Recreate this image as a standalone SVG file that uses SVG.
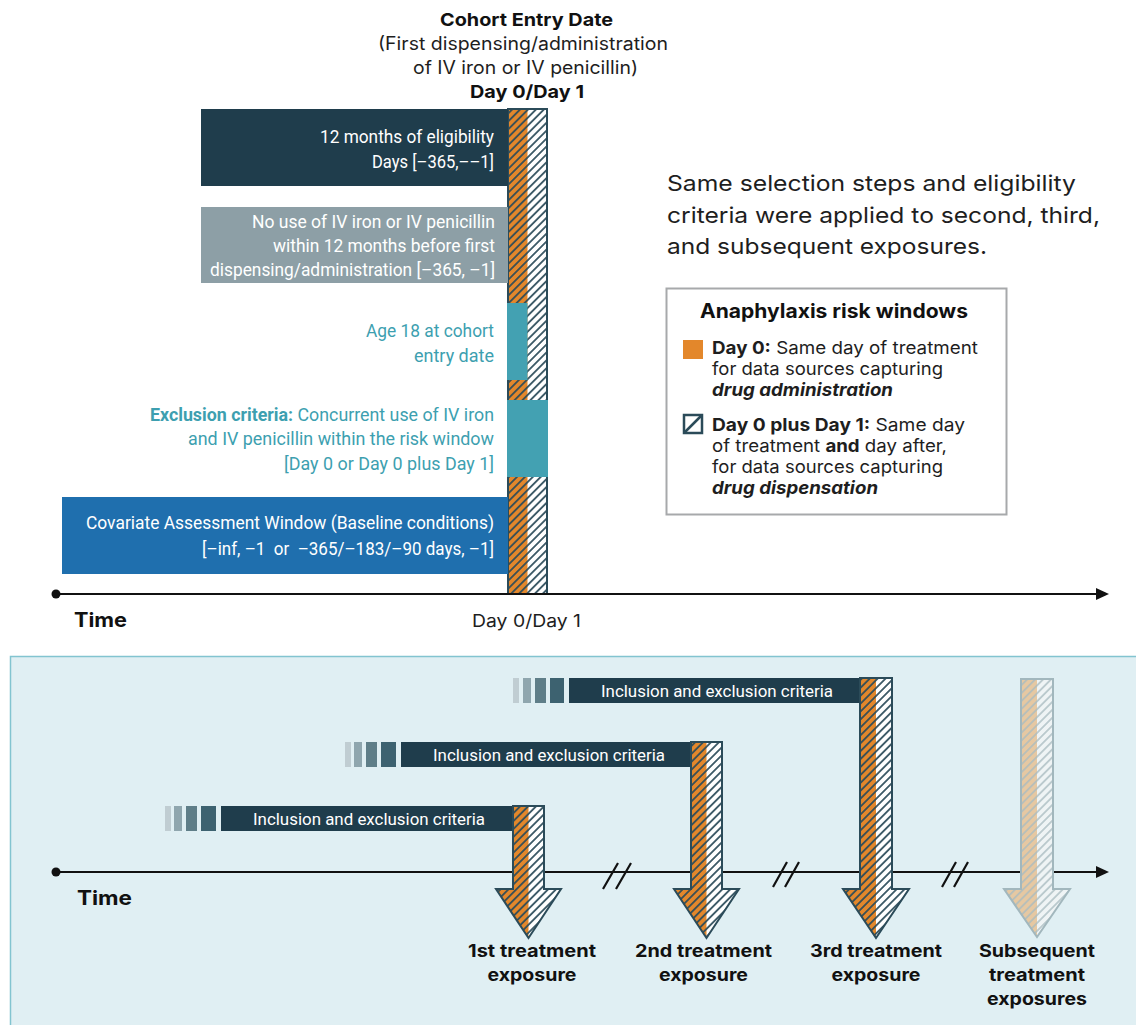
<svg xmlns="http://www.w3.org/2000/svg" width="1136" height="1025" viewBox="0 0 1136 1025">
<defs>
<style>
text{lengthAdjust:spacingAndGlyphs;}
.hd{font-family:Inter,"Liberation Sans",sans-serif;font-weight:700;fill:#111;}
.rg{font-family:Inter,"Liberation Sans",sans-serif;fill:#1e1e1e;}
.cd{font-family:Roboto,"Liberation Sans",sans-serif;font-size:18px;}
.wt{fill:#ffffff;}
.tl{fill:#3d9fb0;}
.axis{stroke:#111;stroke-width:2;fill:none;}
.brk{stroke:#111;stroke-width:2.2;fill:none;}
.out{fill:none;stroke:#2b4b59;stroke-width:2;stroke-linejoin:miter;}
.outf{fill:none;stroke:#a2b7bd;stroke-width:2;}
</style>
<pattern id="hatch" patternUnits="userSpaceOnUse" width="5.6" height="5.6" patternTransform="rotate(45)">
<line x1="2.8" y1="0" x2="2.8" y2="5.6" stroke="#2b4b59" stroke-width="1.7"/>
</pattern>
<pattern id="hatchF" patternUnits="userSpaceOnUse" width="5.6" height="5.6" patternTransform="rotate(45)">
<line x1="2.8" y1="0" x2="2.8" y2="5.6" stroke="#a9bcc1" stroke-width="1.4"/>
</pattern>
</defs>

<!-- Top header -->
<g id="header">
<text class="hd" x="526.5" y="26" font-size="18" text-anchor="middle" textLength="173" lengthAdjust="spacingAndGlyphs">Cohort Entry Date</text>
<text class="rg" x="523" y="50" font-size="18" text-anchor="middle" textLength="290" lengthAdjust="spacingAndGlyphs">(First dispensing/administration</text>
<text class="rg" x="525.5" y="74" font-size="18" text-anchor="middle" textLength="225" lengthAdjust="spacingAndGlyphs">of IV iron or IV penicillin)</text>
<text class="hd" x="527" y="98" font-size="18" text-anchor="middle" textLength="114" lengthAdjust="spacingAndGlyphs">Day 0/Day 1</text>
</g>

<!-- Central risk window bar -->
<g id="risk-bar">
<rect x="508" y="109" width="39" height="485" fill="#ffffff"/>
<rect x="508" y="109" width="19.5" height="485" fill="#e3872b"/>
<rect x="508" y="109" width="39" height="485" fill="url(#hatch)"/>
<rect x="508" y="109" width="39" height="485" class="out"/>
</g>

<g id="eligibility">
<rect x="201" y="109" width="307" height="77" fill="#1f3d4c"/>
<text class="cd wt" x="494" y="143" text-anchor="end" textLength="174" lengthAdjust="spacingAndGlyphs">12 months of eligibility</text>
<text class="cd wt" x="494" y="168" text-anchor="end" textLength="122" lengthAdjust="spacingAndGlyphs">Days [–365,––1]</text>
</g>

<g id="no-use">
<rect x="201" y="207" width="307" height="76" fill="#8d9fa6"/>
<text class="cd wt" x="495" y="228" text-anchor="end" textLength="243" lengthAdjust="spacingAndGlyphs">No use of IV iron or IV penicillin</text>
<text class="cd wt" x="495" y="252" text-anchor="end" textLength="222" lengthAdjust="spacingAndGlyphs">within 12 months before first</text>
<text class="cd wt" x="495" y="276" text-anchor="end" textLength="285" lengthAdjust="spacingAndGlyphs">dispensing/administration [–365, –1]</text>
</g>

<g id="age">
<rect x="507" y="303" width="20.5" height="77" fill="#43a1b2"/>
<text class="cd tl" x="494" y="337" text-anchor="end" textLength="128" lengthAdjust="spacingAndGlyphs">Age 18 at cohort</text>
<text class="cd tl" x="494" y="362" text-anchor="end" textLength="80" lengthAdjust="spacingAndGlyphs">entry date</text>
</g>

<g id="exclusion">
<rect x="507" y="400" width="41" height="77" fill="#43a1b2"/>
<text class="cd tl" x="494" y="421" text-anchor="end" textLength="344" lengthAdjust="spacingAndGlyphs"><tspan font-weight="700">Exclusion criteria:</tspan> Concurrent use of IV iron</text>
<text class="cd tl" x="494" y="445" text-anchor="end" textLength="306" lengthAdjust="spacingAndGlyphs">and IV penicillin within the risk window</text>
<text class="cd tl" x="494" y="470" text-anchor="end" textLength="210" lengthAdjust="spacingAndGlyphs">[Day 0 or Day 0 plus Day 1]</text>
</g>

<g id="covariate">
<rect x="62" y="497" width="446" height="77" fill="#1f6fae"/>
<text class="cd wt" x="494" y="529" text-anchor="end" textLength="408" lengthAdjust="spacingAndGlyphs">Covariate Assessment Window (Baseline conditions)</text>
<text class="cd wt" x="494" y="555" text-anchor="end" textLength="292" lengthAdjust="spacingAndGlyphs" xml:space="preserve">[–inf, –1  or  –365/–183/–90 days, –1]</text>
</g>

<!-- Right side note -->
<g id="note">
<text class="rg" x="667" y="191" font-size="22" textLength="409" lengthAdjust="spacingAndGlyphs">Same selection steps and eligibility</text>
<text class="rg" x="667" y="223" font-size="22" textLength="433" lengthAdjust="spacingAndGlyphs">criteria were applied to second, third,</text>
<text class="rg" x="667" y="254" font-size="22" textLength="320" lengthAdjust="spacingAndGlyphs">and subsequent exposures.</text>
</g>

<!-- Legend -->
<g id="legend">
<rect x="666.5" y="288.5" width="340" height="226" fill="#ffffff" stroke="#a7a9ab" stroke-width="2"/>
<text class="hd" x="834" y="318" font-size="19.5" text-anchor="middle" textLength="268" lengthAdjust="spacingAndGlyphs">Anaphylaxis risk windows</text>
<rect x="683" y="340" width="20" height="19" fill="#e3872b"/>
<text class="rg" x="712" y="354" font-size="17.5" textLength="266" lengthAdjust="spacingAndGlyphs"><tspan font-weight="700">Day 0:</tspan> Same day of treatment</text>
<text class="rg" x="712" y="375" font-size="17.5" textLength="231" lengthAdjust="spacingAndGlyphs">for data sources capturing</text>
<text class="rg" x="712" y="396" font-size="17.5" font-weight="700" font-style="italic" textLength="181" lengthAdjust="spacingAndGlyphs">drug administration</text>
<rect x="684" y="415" width="18" height="18" fill="#ffffff" stroke="#2b4b59" stroke-width="2.5"/>
<line x1="685" y1="432" x2="701" y2="416" stroke="#2b4b59" stroke-width="2.5"/>
<text class="rg" x="712" y="431" font-size="17.5" textLength="253" lengthAdjust="spacingAndGlyphs"><tspan font-weight="700">Day 0 plus Day 1:</tspan> Same day</text>
<text class="rg" x="712" y="452" font-size="17.5" textLength="235" lengthAdjust="spacingAndGlyphs">of treatment <tspan font-weight="700">and</tspan> day after,</text>
<text class="rg" x="712" y="473" font-size="17.5" textLength="231" lengthAdjust="spacingAndGlyphs">for data sources capturing</text>
<text class="rg" x="712" y="494" font-size="17.5" font-weight="700" font-style="italic" textLength="166" lengthAdjust="spacingAndGlyphs">drug dispensation</text>
</g>

<!-- Top axis -->
<g id="connectors-top">
<line class="axis" x1="56" y1="594" x2="1098" y2="594"/>
<circle cx="56" cy="594" r="4.5" fill="#111"/>
<polygon points="1096,588 1109,594 1096,600" fill="#111"/>
</g>
<text class="hd" x="74" y="627" font-size="20" textLength="53" lengthAdjust="spacingAndGlyphs">Time</text>
<text class="rg" x="526.5" y="627" font-size="17.5" text-anchor="middle" textLength="109" lengthAdjust="spacingAndGlyphs">Day 0/Day 1</text>

<!-- Bottom panel -->
<rect id="panel" x="10.5" y="656.5" width="1130" height="372" fill="#e0eff3" stroke="#82c4d0" stroke-width="1.5"/>

<g id="connectors-bottom">
<line class="axis" x1="56" y1="872" x2="1098" y2="872"/>
<circle cx="56" cy="872" r="4.5" fill="#111"/>
<polygon points="1096,866 1109,872 1096,878" fill="#111"/>
<path class="brk" d="M603,889 L618,863 M616,889 L631,863"/>
<path class="brk" d="M773,887 L787,862 M785,887 L799,862"/>
<path class="brk" d="M942,887 L956,862 M954,887 L968,862"/>
</g>
<text class="hd" x="77" y="905" font-size="20" textLength="55" lengthAdjust="spacingAndGlyphs">Time</text>

<!-- Row 1 -->
<g id="exposure-1">
<rect x="165" y="806" width="6" height="25" fill="#c0cdd2"/>
<rect x="174" y="806" width="8" height="25" fill="#8fa6ae"/>
<rect x="186" y="806" width="11" height="25" fill="#5f7e88"/>
<rect x="201" y="806" width="15" height="25" fill="#3d6270"/>
<rect x="221" y="806" width="292" height="25" fill="#1f3d4c"/>
<text class="cd wt" x="369" y="825" text-anchor="middle" style="font-size:17px" textLength="232" lengthAdjust="spacingAndGlyphs">Inclusion and exclusion criteria</text>
<path d="M513,806 H544 V889 H561 L528.5,938 L496,889 H513 Z" fill="#ffffff"/>
<path d="M513,806 H528.5 V938 L496,889 H513 Z" fill="#e3872b"/>
<path d="M513,806 H544 V889 H561 L528.5,938 L496,889 H513 Z" fill="url(#hatch)"/>
<path class="out" d="M513,806 H544 V889 H561 L528.5,938 L496,889 H513 Z"/>
<text class="hd" x="532" y="957" font-size="17.5" text-anchor="middle" textLength="128" lengthAdjust="spacingAndGlyphs">1st treatment</text>
<text class="hd" x="532" y="981" font-size="17.5" text-anchor="middle" textLength="89" lengthAdjust="spacingAndGlyphs">exposure</text>
</g>

<!-- Row 2 -->
<g id="exposure-2">
<rect x="345" y="742" width="6" height="25" fill="#c0cdd2"/>
<rect x="354" y="742" width="8" height="25" fill="#8fa6ae"/>
<rect x="366" y="742" width="11" height="25" fill="#5f7e88"/>
<rect x="381" y="742" width="15" height="25" fill="#3d6270"/>
<rect x="401" y="742" width="290" height="25" fill="#1f3d4c"/>
<text class="cd wt" x="549" y="761" text-anchor="middle" style="font-size:17px" textLength="232" lengthAdjust="spacingAndGlyphs">Inclusion and exclusion criteria</text>
<path d="M691,742 H722 V889 H739 L706.5,938 L674,889 H691 Z" fill="#ffffff"/>
<path d="M691,742 H706.5 V938 L674,889 H691 Z" fill="#e3872b"/>
<path d="M691,742 H722 V889 H739 L706.5,938 L674,889 H691 Z" fill="url(#hatch)"/>
<path class="out" d="M691,742 H722 V889 H739 L706.5,938 L674,889 H691 Z"/>
<text class="hd" x="703.5" y="957" font-size="17.5" text-anchor="middle" textLength="137" lengthAdjust="spacingAndGlyphs">2nd treatment</text>
<text class="hd" x="703.5" y="981" font-size="17.5" text-anchor="middle" textLength="89" lengthAdjust="spacingAndGlyphs">exposure</text>
</g>

<!-- Row 3 -->
<g id="exposure-3">
<rect x="513" y="678" width="6" height="25" fill="#c0cdd2"/>
<rect x="523" y="678" width="8" height="25" fill="#8fa6ae"/>
<rect x="535" y="678" width="11" height="25" fill="#5f7e88"/>
<rect x="550" y="678" width="14" height="25" fill="#3d6270"/>
<rect x="569" y="678" width="291" height="25" fill="#1f3d4c"/>
<text class="cd wt" x="717" y="697" text-anchor="middle" style="font-size:17px" textLength="232" lengthAdjust="spacingAndGlyphs">Inclusion and exclusion criteria</text>
<path d="M860,678 H892 V889 H909 L876,938 L843,889 H860 Z" fill="#ffffff"/>
<path d="M860,678 H876 V938 L843,889 H860 Z" fill="#e3872b"/>
<path d="M860,678 H892 V889 H909 L876,938 L843,889 H860 Z" fill="url(#hatch)"/>
<path class="out" d="M860,678 H892 V889 H909 L876,938 L843,889 H860 Z"/>
<text class="hd" x="876" y="957" font-size="17.5" text-anchor="middle" textLength="132" lengthAdjust="spacingAndGlyphs">3rd treatment</text>
<text class="hd" x="876" y="981" font-size="17.5" text-anchor="middle" textLength="89" lengthAdjust="spacingAndGlyphs">exposure</text>
</g>

<!-- Subsequent -->
<g id="exposure-subsequent">
<path d="M1021,679 H1053 V889 H1070 L1037,937 L1004,889 H1021 Z" fill="#eff4f5"/>
<path d="M1021,679 H1037 V937 L1004,889 H1021 Z" fill="#e6c8a2"/>
<path d="M1021,679 H1053 V889 H1070 L1037,937 L1004,889 H1021 Z" fill="url(#hatchF)"/>
<path class="outf" d="M1021,679 H1053 V889 H1070 L1037,937 L1004,889 H1021 Z"/>
<text class="hd" x="1037" y="957" font-size="17.5" text-anchor="middle" textLength="116" lengthAdjust="spacingAndGlyphs">Subsequent</text>
<text class="hd" x="1037" y="981" font-size="17.5" text-anchor="middle" textLength="96" lengthAdjust="spacingAndGlyphs">treatment</text>
<text class="hd" x="1037" y="1005" font-size="17.5" text-anchor="middle" textLength="100" lengthAdjust="spacingAndGlyphs">exposures</text>
</g>
</svg>
